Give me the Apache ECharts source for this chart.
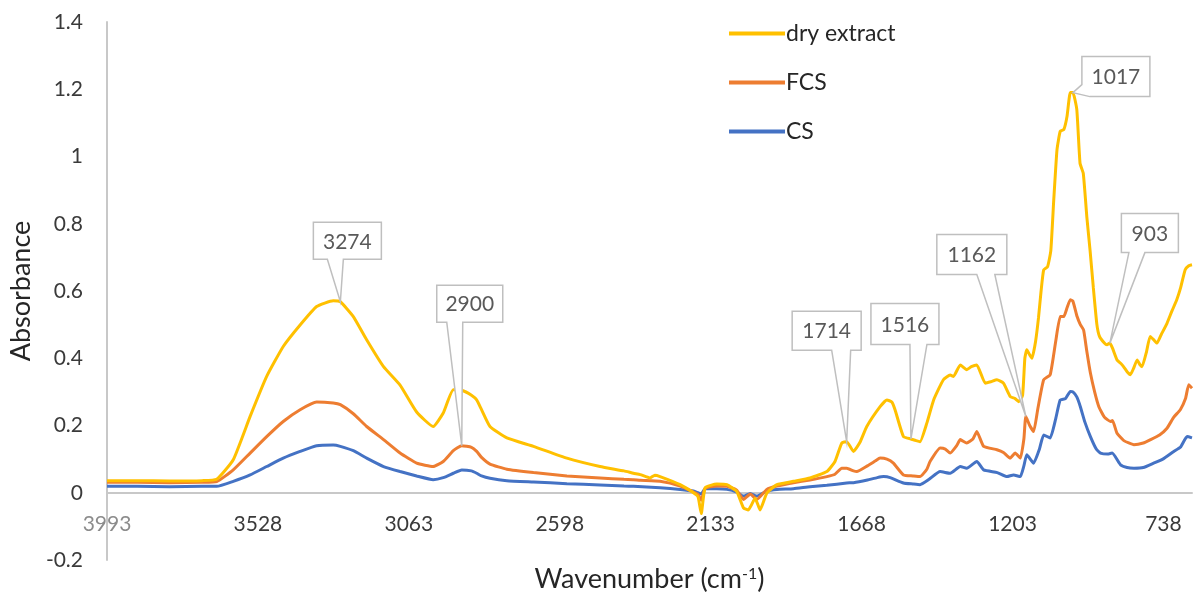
<!DOCTYPE html>
<html>
<head>
<meta charset="utf-8">
<script src="https://cdn.jsdelivr.net/npm/echarts@6/dist/echarts.min.js"></script>
<style>
  html, body { margin: 0; padding: 0; background: #ffffff; }
  #chart { width: 1196px; height: 597px; }
</style>
</head>
<body>
<div id="chart"></div>
<script>
// FTIR absorbance spectra: dry extract, FCS and CS
const wavenumberTicks = [3993, 3528, 3063, 2598, 2133, 1668, 1203, 738];

const dryWavenumber = [3993, 3900, 3800, 3700, 3655, 3604, 3552, 3501, 3450, 3398, 3347, 3296, 3274, 3234, 3193, 3141, 3090, 3039, 2988, 2957, 2926, 2900, 2870, 2854, 2839, 2813, 2761, 2679, 2576, 2474, 2400, 2371, 2350, 2320, 2305, 2289, 2227, 2186, 2172, 2162, 2150, 2114, 2083, 2053, 2032, 2017, 1996, 1981, 1960, 1929, 1878, 1827, 1775, 1750, 1729, 1714, 1693, 1673, 1652, 1611, 1590, 1575, 1565, 1539, 1516, 1500, 1488, 1467, 1446, 1416, 1395, 1385, 1364, 1344, 1330, 1313, 1287, 1270, 1251, 1231, 1210, 1195, 1184, 1172, 1165, 1159, 1150, 1143, 1132, 1123, 1115, 1107, 1095, 1085, 1076, 1066, 1056, 1045, 1035, 1025, 1017, 1005, 995, 985, 974, 964, 954, 943, 935, 920, 912, 903, 895, 881, 870, 861, 850, 840, 830, 819, 810, 804, 790, 779, 768, 758, 745, 727, 712, 697, 685, 671, 660, 650];
const dryAbsorbance = [0.036, 0.036, 0.035, 0.036, 0.040, 0.098, 0.227, 0.346, 0.435, 0.499, 0.554, 0.571, 0.568, 0.524, 0.455, 0.375, 0.320, 0.240, 0.197, 0.237, 0.306, 0.305, 0.290, 0.276, 0.247, 0.197, 0.163, 0.138, 0.103, 0.078, 0.065, 0.058, 0.054, 0.044, 0.052, 0.048, 0.024, 0.000, -0.012, -0.062, 0.015, 0.026, 0.024, 0.004, -0.045, -0.051, -0.016, -0.051, -0.001, 0.024, 0.034, 0.044, 0.063, 0.093, 0.148, 0.152, 0.123, 0.150, 0.197, 0.256, 0.276, 0.270, 0.247, 0.167, 0.160, 0.155, 0.152, 0.207, 0.276, 0.336, 0.350, 0.346, 0.380, 0.366, 0.375, 0.380, 0.326, 0.330, 0.336, 0.326, 0.286, 0.280, 0.271, 0.290, 0.400, 0.425, 0.410, 0.400, 0.450, 0.520, 0.600, 0.663, 0.672, 0.720, 0.870, 1.020, 1.075, 1.080, 1.120, 1.190, 1.190, 1.140, 0.980, 0.950, 0.820, 0.720, 0.610, 0.500, 0.465, 0.445, 0.440, 0.445, 0.430, 0.395, 0.385, 0.375, 0.360, 0.351, 0.370, 0.395, 0.380, 0.375, 0.420, 0.465, 0.455, 0.445, 0.470, 0.504, 0.540, 0.574, 0.610, 0.663, 0.675, 0.678];

const fcsWavenumber = [3993, 3900, 3800, 3700, 3655, 3604, 3552, 3501, 3450, 3398, 3347, 3296, 3274, 3234, 3193, 3141, 3090, 3039, 2988, 2957, 2926, 2900, 2870, 2854, 2839, 2813, 2761, 2679, 2576, 2474, 2400, 2371, 2350, 2289, 2227, 2186, 2172, 2162, 2150, 2114, 2083, 2053, 2032, 2011, 1991, 1960, 1929, 1878, 1827, 1775, 1750, 1729, 1714, 1693, 1683, 1650, 1625, 1611, 1590, 1570, 1539, 1510, 1488, 1467, 1457, 1426, 1410, 1395, 1375, 1364, 1344, 1325, 1313, 1292, 1251, 1231, 1210, 1195, 1179, 1168, 1162, 1150, 1138, 1125, 1107, 1087, 1070, 1056, 1045, 1035, 1025, 1017, 1004, 994, 984, 974, 963, 950, 937, 920, 901, 895, 881, 860, 829, 800, 778, 750, 727, 706, 686, 670, 660, 650];
const fcsAbsorbance = [0.031, 0.031, 0.030, 0.031, 0.033, 0.068, 0.118, 0.167, 0.212, 0.247, 0.270, 0.267, 0.262, 0.235, 0.197, 0.158, 0.118, 0.088, 0.078, 0.093, 0.125, 0.140, 0.135, 0.123, 0.105, 0.085, 0.070, 0.060, 0.050, 0.044, 0.040, 0.039, 0.037, 0.034, 0.020, 0.002, -0.005, -0.022, 0.013, 0.020, 0.019, 0.008, -0.020, -0.004, -0.020, 0.010, 0.020, 0.030, 0.038, 0.048, 0.055, 0.073, 0.073, 0.065, 0.063, 0.080, 0.095, 0.103, 0.100, 0.088, 0.053, 0.050, 0.048, 0.070, 0.093, 0.133, 0.130, 0.118, 0.140, 0.158, 0.148, 0.160, 0.182, 0.138, 0.128, 0.120, 0.103, 0.118, 0.103, 0.160, 0.227, 0.200, 0.182, 0.250, 0.336, 0.351, 0.450, 0.524, 0.524, 0.550, 0.574, 0.570, 0.524, 0.500, 0.484, 0.420, 0.356, 0.300, 0.256, 0.225, 0.212, 0.215, 0.177, 0.155, 0.143, 0.148, 0.158, 0.172, 0.192, 0.225, 0.247, 0.280, 0.321, 0.311];

const csWavenumber = [3993, 3900, 3800, 3700, 3655, 3604, 3552, 3501, 3450, 3398, 3347, 3296, 3274, 3234, 3193, 3141, 3090, 3039, 2988, 2957, 2926, 2900, 2870, 2854, 2839, 2813, 2761, 2679, 2576, 2474, 2400, 2371, 2289, 2227, 2186, 2172, 2162, 2150, 2114, 2083, 2053, 2032, 2011, 1991, 1960, 1929, 1878, 1827, 1775, 1714, 1693, 1650, 1620, 1600, 1580, 1539, 1510, 1488, 1460, 1426, 1395, 1364, 1344, 1313, 1292, 1250, 1220, 1200, 1179, 1168, 1159, 1138, 1120, 1107, 1087, 1070, 1056, 1040, 1025, 1017, 1005, 994, 980, 963, 945, 932, 910, 896, 870, 850, 829, 800, 768, 740, 706, 686, 665, 650];
const csAbsorbance = [0.019, 0.019, 0.018, 0.019, 0.019, 0.034, 0.053, 0.078, 0.103, 0.123, 0.140, 0.142, 0.138, 0.125, 0.103, 0.078, 0.063, 0.050, 0.039, 0.045, 0.058, 0.068, 0.065, 0.058, 0.050, 0.043, 0.036, 0.032, 0.027, 0.023, 0.020, 0.019, 0.015, 0.010, 0.005, 0.000, -0.004, 0.012, 0.012, 0.010, 0.002, -0.010, -0.002, -0.010, 0.005, 0.010, 0.012, 0.018, 0.022, 0.029, 0.030, 0.038, 0.045, 0.048, 0.045, 0.029, 0.026, 0.024, 0.040, 0.063, 0.058, 0.078, 0.073, 0.093, 0.068, 0.060, 0.048, 0.053, 0.048, 0.080, 0.113, 0.088, 0.130, 0.172, 0.163, 0.220, 0.276, 0.280, 0.301, 0.300, 0.285, 0.256, 0.210, 0.167, 0.130, 0.118, 0.115, 0.118, 0.083, 0.075, 0.073, 0.075, 0.088, 0.100, 0.123, 0.135, 0.167, 0.163];

// Band assignments marked on the spectra: [series name, wavenumber]
const bandMarks = [
  ['dry extract', 3274],
  ['FCS', 2900],
  ['dry extract', 1714],
  ['dry extract', 1516],
  ['FCS', 1162],
  ['dry extract', 1017],
  ['dry extract', 903]
];

// Callout box placement relative to the marked point (pixels)
const calloutBoxes = [
  { dx: 7,   dy: -61,  w: 68, h: 37, side: 'bottom', base: [-20, -4] },
  { dx: 8,   dy: -142, w: 66, h: 37, side: 'bottom', base: [-23, -7] },
  { dx: -20, dy: -111, w: 69, h: 39, side: 'bottom', base: [5, 24] },
  { dx: -6,  dy: -115, w: 68, h: 41, side: 'bottom', base: [5, 22] },
  { dx: -54, dy: -162, w: 70, h: 40, side: 'bottom', base: [5, 23] },
  { dx: 43,  dy: -16,  w: 68, h: 40, side: 'corner', base: [8, -12] },
  { dx: 40,  dy: -110, w: 57, h: 39, side: 'bottom', base: [-21, -5] }
];

const FONT = 'Lato';
const seriesDefs = [
  { name: 'dry extract', wn: dryWavenumber, abs: dryAbsorbance, color: '#FFC000', z: 5 },
  { name: 'FCS', wn: fcsWavenumber, abs: fcsAbsorbance, color: '#ED7D31', z: 4 },
  { name: 'CS', wn: csWavenumber, abs: csAbsorbance, color: '#4472C4', z: 3 }
];

const chart = echarts.init(document.getElementById('chart'), null, { renderer: 'canvas' });

chart.setOption({
  animation: false,
  backgroundColor: '#ffffff',
  textStyle: { fontFamily: FONT },
  grid: { left: 107, right: 4, top: 22, bottom: 37, containLabel: false, outerBoundsMode: 'none' },
  legend: {
    orient: 'vertical',
    left: 724,
    top: 17,
    itemWidth: 56,
    itemHeight: 14,
    itemGap: 26,
    icon: 'path://M0,5.5 L56,5.5 L56,9.5 L0,9.5 Z',
    textStyle: { fontFamily: FONT, fontSize: 23, color: '#262626', padding: [0, 0, 0, -4] },
    data: seriesDefs.map(s => s.name)
  },
  xAxis: {
    type: 'value',
    inverse: true,
    min: 650,
    max: 3993,
    name: 'Wavenumber (cm{sup|-1})',
    nameLocation: 'middle',
    nameGap: 6,
    nameTextStyle: {
      fontFamily: FONT, fontSize: 27, color: '#262626',
      rich: { sup: { fontFamily: FONT, fontSize: 16, color: '#262626', verticalAlign: 'top', padding: [0, 0, 10, 0] } }
    },
    axisLine: { show: true, onZero: true, lineStyle: { color: '#c8c8c8', width: 2 } },
    axisTick: { show: false },
    splitLine: { show: false },
    axisLabel: {
      customValues: wavenumberTicks,
      margin: -46,
      fontFamily: FONT,
      fontSize: 21,
      color: '#3a3a3a',
      formatter: v => (v === wavenumberTicks[0] ? '{dim|' + v + '}' : String(v)),
      rich: { dim: { fontFamily: FONT, fontSize: 21, color: '#8c8c8c' } }
    }
  },
  yAxis: {
    type: 'value',
    min: -0.2,
    max: 1.4,
    interval: 0.2,
    name: 'Absorbance',
    nameLocation: 'middle',
    nameGap: 51,
    nameTextStyle: { fontFamily: FONT, fontSize: 27, color: '#262626' },
    axisLine: { show: true, lineStyle: { color: '#c8c8c8', width: 2 } },
    axisTick: { show: false },
    splitLine: { show: false },
    axisLabel: {
      margin: 24,
      fontFamily: FONT,
      fontSize: 21,
      color: '#3a3a3a',
      formatter: v => String(Math.round(v * 10) / 10)
    }
  },
  series: seriesDefs.map(s => ({
    name: s.name,
    type: 'line',
    data: s.wn.map((w, i) => [w, s.abs[i]]),
    showSymbol: false,
    symbol: 'none',
    smooth: 0.15,
    z: s.z,
    color: s.color,
    lineStyle: { color: s.color, width: 3 },
    emphasis: { disabled: true }
  }))
});

// Callout boxes with a wedge pointing at each marked band
function buildCallouts() {
  const elements = [];
  bandMarks.forEach(([seriesName, wavenumber], i) => {
    const def = seriesDefs.find(s => s.name === seriesName);
    const value = def.abs[def.wn.indexOf(wavenumber)];
    const tip = chart.convertToPixel({ gridIndex: 0 }, [wavenumber, value]);
    const b = calloutBoxes[i];
    const cx = tip[0] + b.dx;
    const cy = tip[1] + b.dy;
    const L = cx - b.w / 2, R = cx + b.w / 2, T = cy - b.h / 2, B = cy + b.h / 2;
    let points;
    if (b.side === 'bottom') {
      points = [[L, T], [R, T], [R, B], [cx + b.base[1], B], tip, [cx + b.base[0], B], [L, B]];
    } else {
      points = [[L, T], [R, T], [R, B], [L + b.base[0], B], tip, [L, B + b.base[1]]];
    }
    elements.push({
      type: 'polygon',
      z: 100,
      shape: { points: points },
      style: { fill: '#ffffff', stroke: '#bfbfbf', lineWidth: 1.5 }
    });
    elements.push({
      type: 'text',
      z: 101,
      x: cx,
      y: cy + 1,
      style: {
        text: String(wavenumber),
        font: '21px ' + FONT,
        fill: '#595959',
        textAlign: 'center',
        textVerticalAlign: 'middle'
      }
    });
  });
  chart.setOption({ graphic: elements });
}
buildCallouts();
</script>
</body>
</html>
